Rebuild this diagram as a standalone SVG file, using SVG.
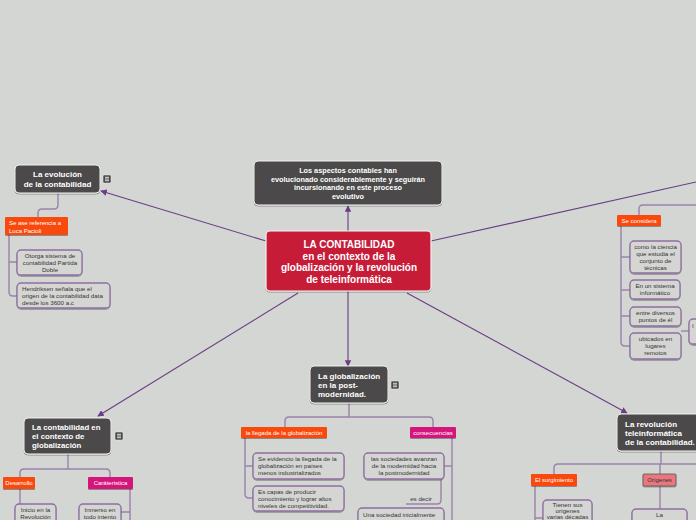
<svg xmlns="http://www.w3.org/2000/svg" width="696" height="520" viewBox="0 0 696 520">
<defs>
<marker id="arr" viewBox="0 0 8 8" refX="7" refY="4" markerWidth="6" markerHeight="6" orient="auto"><path d="M0,0 L8,4 L0,8 z" fill="#6a3d86"/></marker>
<filter id="sh" x="-10%" y="-10%" width="130%" height="140%"><feDropShadow dx="0" dy="1" stdDeviation="0.7" flood-opacity="0.35"/></filter>
<g id="icon"><rect x="0" y="0" width="8" height="8" rx="1.2" fill="#4b4a48" stroke="#eee" stroke-width="0.5"/><path d="M2,2.3H6M2,4H6M2,5.7H6" stroke="#fff" stroke-width="0.8"/></g>
</defs>
<style>
.main{fill:#4b4a48;stroke:#f2f2f2;stroke-width:1;filter:url(#sh)}
.ctr{fill:#c71f37;stroke:#f5f5f5;stroke-width:1.2;filter:url(#sh)}
.leaf{fill:#d5d6d3;stroke:#8e6fa0;stroke-width:1.3;filter:url(#sh)}
.or{fill:#fa4a0c;filter:url(#sh)}
.mg{fill:#d4197b;filter:url(#sh)}
.pk{fill:#e9777d;stroke:#555;stroke-width:0.8;filter:url(#sh)}
.con{fill:none;stroke:#6a3d86;stroke-width:1.1}
.br{fill:none;stroke:#9a82ac;stroke-width:1.4}
text{font-family:"Liberation Sans",Arial,sans-serif}
.tw{fill:#fff;font-weight:bold}
.tl{fill:#fff;font-size:6px}
.td{fill:#333;font-size:6px}
.ts{fill:#333;font-size:6.2px}
.c{text-anchor:middle}
</style>
<rect width="696" height="520" fill="#d4d6d3"/>

<g id="connectors">
<path class="con" d="M348,231 L348,206" marker-end="url(#arr)"/>
<path class="con" d="M266,241 L101,191" marker-end="url(#arr)"/>
<path class="con" d="M431,241 L696,182"/>
<path class="con" d="M298,293 L98,416" marker-end="url(#arr)"/>
<path class="con" d="M348,291 L348,366" marker-end="url(#arr)"/>
<path class="con" d="M407,293 L627,413" marker-end="url(#arr)"/>
<path class="br" d="M58,193 V205 Q58,209 54,209 H42 Q38,209 38,213 V217"/>
<path class="br" d="M9,235 V292 Q9,296 13,296 H17 M9,262 H17"/>
<path class="br" d="M639,215 V209 Q639,205 643,205 H696"/>
<path class="br" d="M621,226 V342 Q621,346 625,346 H630 M621,257 H630 M621,290 H630 M621,316 H630"/>
<path class="br" d="M681,331 H689"/>
<path class="br" d="M68,454 V469 M20,477 V473 Q20,469 24,469 H106 Q110,469 110,473 V477"/>
<path class="br" d="M20,489 V520 M20,512 H15"/>
<path class="br" d="M130,489 V520 M130,512 H121"/>
<path class="br" d="M349,403 V417 M285,427 V421 Q285,417 289,417 H429 Q433,417 433,421 V427"/>
<path class="br" d="M245,438 V494 Q245,498 249,498 H253 M245,466 H253"/>
<path class="br" d="M452,438 V520 M452,466 H444"/>
<path class="br" d="M441,479 V500 Q441,504 437,504 H406"/>
<path class="br" d="M661,451 V464 M554,474 V468 Q554,464 558,464 H696 M660,464 V474"/>
<path class="br" d="M535,486 V520 M535,518 H543"/>
<path class="br" d="M660,486 V509"/>
</g>

<g id="center">
<rect class="ctr" x="266" y="231" width="165" height="60" rx="4"/>
<text class="tw c" font-size="10"><tspan x="349" y="248">LA CONTABILIDAD</tspan><tspan x="349" y="259.5">en el contexto de la</tspan><tspan x="349" y="271">globalización y la revolución</tspan><tspan x="349" y="282.5">de teleinformática</tspan></text>
</g>

<g id="aspectos">
<rect class="main" x="254" y="161" width="188" height="44" rx="4"/>
<text class="tw c" font-size="7.3"><tspan x="348" y="173">Los aspectos contables han</tspan><tspan x="348" y="181.5">evolucionado considerablemente y seguirán</tspan><tspan x="348" y="190">incursionando en este proceso</tspan><tspan x="348" y="198.5">evolutivo</tspan></text>
</g>

<g id="evolucion">
<rect class="main" x="15" y="165" width="85" height="28" rx="4"/>
<text class="tw c" font-size="8"><tspan x="57.5" y="177">La evolución</tspan><tspan x="57.5" y="187">de la contabilidad</tspan></text>
<use href="#icon" x="103" y="175"/>
</g>
<g id="pacioli">
<rect class="or" x="5" y="217" width="63" height="18" rx="1"/>
<text class="tl"><tspan x="9" y="225">Se ase referencia a</tspan><tspan x="9" y="232.5">Luca Pacioli</tspan></text>
</g>
<g id="otorga">
<rect class="leaf" x="17" y="250" width="65" height="25" rx="4"/>
<text class="ts c"><tspan x="50" y="258">Otorga sistema de</tspan><tspan x="50" y="265">contabilidad Partida</tspan><tspan x="50" y="272">Doble</tspan></text>
</g>
<g id="hendriksen">
<rect class="leaf" x="17" y="283" width="93" height="25" rx="4"/>
<text class="ts"><tspan x="22" y="291">Hendriksen señala que el</tspan><tspan x="22" y="298">origen de la contabilidad data</tspan><tspan x="22" y="305">desde los 3600 a.c</tspan></text>
</g>

<g id="seconsidera">
<rect class="or" x="617" y="215" width="44" height="11" rx="1"/>
<text class="tl c" x="639" y="222.5">Se considera</text>
</g>
<g id="ciencia">
<rect class="leaf" x="630" y="241" width="51" height="32" rx="4"/>
<text class="ts c"><tspan x="655.5" y="249">como la ciencia</tspan><tspan x="655.5" y="256">que estudia el</tspan><tspan x="655.5" y="263">conjunto de</tspan><tspan x="655.5" y="270">técnicas</tspan></text>
</g>
<g id="sistema">
<rect class="leaf" x="630" y="280" width="50" height="19" rx="4"/>
<text class="ts c"><tspan x="655" y="288">En un sistema</tspan><tspan x="655" y="295">informático</tspan></text>
</g>
<g id="diversos">
<rect class="leaf" x="630" y="307" width="51" height="19" rx="4"/>
<text class="ts c"><tspan x="655.5" y="315">entre diversos</tspan><tspan x="655.5" y="322">puntos de él</tspan></text>
</g>
<g id="remotos">
<rect class="leaf" x="630" y="333" width="51" height="26" rx="4"/>
<text class="ts c"><tspan x="655.5" y="341">ubicados en</tspan><tspan x="655.5" y="348">lugares</tspan><tspan x="655.5" y="355">remotos</tspan></text>
</g>
<g id="partial">
<rect class="leaf" x="689" y="319" width="20" height="25" rx="4"/>
<text class="ts" x="692" y="328">I</text>
</g>

<g id="contexto">
<rect class="main" x="24" y="418" width="87" height="36" rx="4"/>
<text class="tw" font-size="7.8"><tspan x="32" y="430">La contabilidad en</tspan><tspan x="32" y="439">el contexto de</tspan><tspan x="32" y="448">globalización</tspan></text>
<use href="#icon" x="115" y="432"/>
</g>
<g id="desarrollo">
<rect class="or" x="3" y="477" width="32" height="12" rx="1"/>
<text class="tl c" x="19" y="485">Desarrollo</text>
</g>
<g id="caracteristica">
<rect class="mg" x="88" y="477" width="45" height="12" rx="1"/>
<text class="tl c" x="110.5" y="485">Caráteristica</text>
</g>
<g id="inicio">
<rect class="leaf" x="15" y="504" width="41" height="24" rx="4"/>
<text class="ts c"><tspan x="35.5" y="512">Inicio en la</tspan><tspan x="35.5" y="519">Revolución</tspan></text>
</g>
<g id="inmerso">
<rect class="leaf" x="79" y="504" width="42" height="24" rx="4"/>
<text class="ts c"><tspan x="100" y="512">Inmerso en</tspan><tspan x="100" y="519">todo intento</tspan></text>
</g>

<g id="globalizacion">
<rect class="main" x="310" y="366" width="78" height="37" rx="4"/>
<text class="tw" font-size="8"><tspan x="318" y="379">La globalización</tspan><tspan x="318" y="388">en la post-</tspan><tspan x="318" y="397">modernidad.</tspan></text>
<use href="#icon" x="391" y="381"/>
</g>
<g id="llegada">
<rect class="or" x="241" y="427" width="86" height="11" rx="1"/>
<text class="tl c" x="284" y="434.5">la llegada de la globalización</text>
</g>
<g id="consecuencias">
<rect class="mg" x="410" y="427" width="46" height="11" rx="1"/>
<text class="tl c" x="433" y="434.5">consecuencias</text>
</g>
<g id="evidencio">
<rect class="leaf" x="253" y="453" width="91" height="26" rx="4"/>
<text class="ts"><tspan x="258" y="461">Se evidencio la llegada de la</tspan><tspan x="258" y="468">globalización en países</tspan><tspan x="258" y="475">menos industrializados</tspan></text>
</g>
<g id="capas">
<rect class="leaf" x="253" y="486" width="91" height="25" rx="4"/>
<text class="ts"><tspan x="258" y="494">Es capas de producir</tspan><tspan x="258" y="501">conocimiento y lograr altos</tspan><tspan x="258" y="508">niveles de competitividad.</tspan></text>
</g>
<g id="sociedades">
<rect class="leaf" x="364" y="453" width="80" height="26" rx="4"/>
<text class="ts c"><tspan x="404" y="461">las sociedades avanzan</tspan><tspan x="404" y="468">de la modernidad hacia</tspan><tspan x="404" y="475">la postmodernidad</tspan></text>
</g>
<text class="ts c" x="421" y="501">es decir</text>
<g id="sociedad">
<rect class="leaf" x="358" y="508" width="86" height="24" rx="4"/>
<text class="ts"><tspan x="363" y="517">Una sociedad inicialmente</tspan></text>
</g>

<g id="revolucion">
<rect class="main" x="617" y="414" width="90" height="37" rx="4"/>
<text class="tw" font-size="8"><tspan x="625" y="427">La revolución</tspan><tspan x="625" y="436">teleinformática</tspan><tspan x="625" y="445">de la contabilidad.</tspan></text>
</g>
<g id="surgimiento">
<rect class="or" x="531" y="474" width="46" height="12" rx="1"/>
<text class="tl c" x="554" y="482">El surgimiento</text>
</g>
<g id="origenes">
<rect class="pk" x="643" y="474" width="33" height="12" rx="1"/>
<text class="td c" x="659.5" y="482">Orígenes</text>
</g>
<g id="tienen">
<rect class="leaf" x="543" y="500" width="49" height="30" rx="4"/>
<text class="ts c"><tspan x="567.5" y="506.5">Tienen sus</tspan><tspan x="567.5" y="512.5">orígenes</tspan><tspan x="567.5" y="518.5">varias décadas</tspan></text>
</g>
<g id="la">
<rect class="leaf" x="632" y="509" width="55" height="24" rx="4"/>
<text class="ts c" x="659.5" y="517">La</text>
</g>
</svg>
